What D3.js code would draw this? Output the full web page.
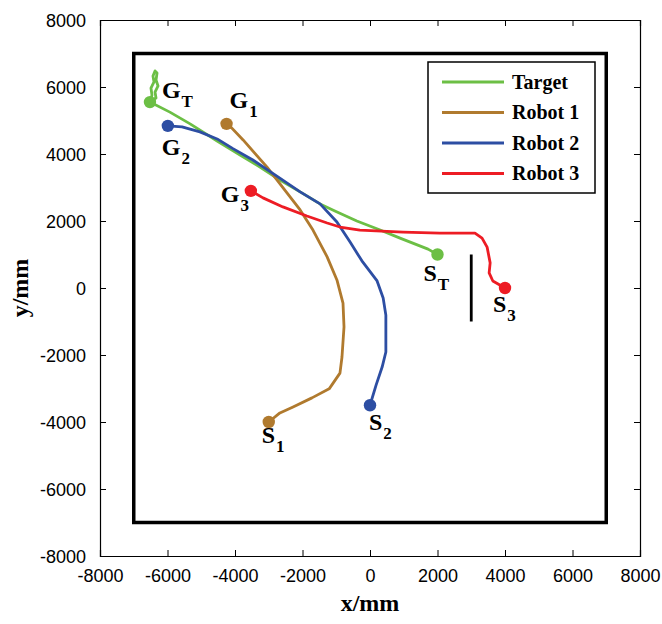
<!DOCTYPE html>
<html>
<head>
<meta charset="utf-8">
<script src="https://cdn.jsdelivr.net/npm/d3@7"></script>
<style>
  html, body { margin: 0; padding: 0; background: #fff; }
  svg { display: block; }
</style>
</head>
<body>
<svg id="chart" width="662" height="624"></svg>
<script>
// ---------- data (mm) ----------
const xTicks = [-8000, -6000, -4000, -2000, 0, 2000, 4000, 6000, 8000];
const yTicks = [-8000, -6000, -4000, -2000, 0, 2000, 4000, 6000, 8000];

const seriesNames = ["Target", "Robot 1", "Robot 2", "Robot 3"];

const targetPath = [
  [2000,1000],[1720,1160],[890,1490],[300,1730],[-390,2000],[-1040,2300],[-1480,2510],
  [-2070,2870],[-2670,3220],[-3260,3610],[-3850,3970],[-4530,4390],[-5330,4900],
  [-5930,5250],[-6520,5550],
  [-6460,5760],[-6490,5970],[-6400,6150],[-6430,6330],[-6370,6480],[-6310,6420],
  [-6340,6210],[-6280,6030],[-6370,5850],[-6340,5670],[-6490,5580]
];
const robot1Path = [
  [-4250,4900],[-4240,4930],[-3760,4420],[-3050,3610],[-2460,2840],[-2070,2330],[-1690,1730],
  [-1270,930],[-980,240],[-800,-450],[-770,-1160],[-830,-2060],[-890,-2540],
  [-1210,-3010],[-1720,-3280],[-2280,-3550],[-2670,-3730],[-3000,-4000]
];
const robot2Path = [
  [-5990,4840],[-5570,4810],[-5040,4660],[-4530,4450],[-4060,4160],[-3470,3820],
  [-2760,3340],[-2070,2870],[-1480,2510],[-980,1970],[-590,1370],[-240,810],
  [210,210],[390,-300],[470,-810],[470,-1910],[360,-2360],[180,-2900],[0,-3500]
];
const robot3Path = [
  [-3530,2900],[-3170,2690],[-2580,2420],[-1870,2150],[-1270,1940],[-890,1820],
  [-300,1730],[980,1670],[2070,1640],[3110,1640],[3320,1490],[3470,1220],
  [3560,750],[3530,450],[3640,210],[4000,0]
];

// start / goal markers
const startPoints = [[2000,1000],[-3000,-4000],[0,-3500],[4000,0]];
const goalPoints  = [[-6520,5550],[-4250,4900],[-5990,4840],[-3530,2900]];
const startLabels = ["S", "S", "S", "S"];
const goalLabels  = ["G", "G", "G", "G"];
const subLabels   = ["T", "1", "2", "3"];

// boundary square and obstacle (mm)
const boundary = [[-7000,-7000],[7000,-7000],[7000,7000],[-7000,7000]];
const obstacle = [[3000,1000],[3000,-1000]];

const xLabel = "x/mm";
const yLabel = "y/mm";

// ---------- styles ----------
const colors = ["#6cbf45", "#b07a2e", "#2d4ea3", "#ed1c24"];
const paths = [targetPath, robot1Path, robot2Path, robot3Path];

// label offsets (px) relative to marker centre
const goalOffsets  = [[12,-4],[3,-16],[-6,29],[-30,11]];
const startOffsets = [[-14,26],[-7,21],[-1,25],[-12,24]];

const svg = d3.select("#chart");
const W = 662, H = 624;
const m = {left: 100, right: 22, top: 20, bottom: 68};
const iw = W - m.left - m.right, ih = H - m.top - m.bottom;

const x = d3.scaleLinear().domain([-8000, 8000]).range([m.left, m.left + iw]);
const y = d3.scaleLinear().domain([-8000, 8000]).range([m.top + ih, m.top]);

const tickFont = "'Liberation Sans', Arial, sans-serif";
const serif = "'Liberation Serif', 'Times New Roman', serif";
const fmt = d => String(d); // plain hyphen-minus like the original

// axes with inward ticks
const tl = 6;
const gx = svg.append("g").attr("transform", `translate(0,${m.top + ih})`)
  .call(d3.axisBottom(x).tickValues(xTicks).tickSize(-tl).tickPadding(tl + 7).tickFormat(fmt));
const gxt = svg.append("g").attr("transform", `translate(0,${m.top})`)
  .call(d3.axisTop(x).tickValues(xTicks).tickSize(-tl).tickFormat(""));
const gy = svg.append("g").attr("transform", `translate(${m.left},0)`)
  .call(d3.axisLeft(y).tickValues(yTicks).tickSize(-tl).tickPadding(tl + 8).tickFormat(fmt));
const gyr = svg.append("g").attr("transform", `translate(${m.left + iw},0)`)
  .call(d3.axisRight(y).tickValues(yTicks).tickSize(-tl).tickFormat(""));
[gx, gxt, gy, gyr].forEach(g => {
  g.select(".domain").attr("stroke", "#000").attr("stroke-width", 1.2);
  g.selectAll(".tick line").attr("stroke", "#000").attr("stroke-width", 1);
  g.selectAll("text").attr("font-family", tickFont).attr("font-size", 18).attr("fill", "#000");
});
gx.selectAll(".tick text").attr("dy", "0.71em");
gy.selectAll(".tick text").attr("dy", "0.36em");

// boundary square
svg.append("path")
  .attr("d", d3.line().x(d => x(d[0])).y(d => y(d[1]))(boundary) + "Z")
  .attr("fill", "none").attr("stroke", "#000").attr("stroke-width", 3.5);

// obstacle
svg.append("line")
  .attr("x1", x(obstacle[0][0])).attr("y1", y(obstacle[0][1]))
  .attr("x2", x(obstacle[1][0])).attr("y2", y(obstacle[1][1]))
  .attr("stroke", "#000").attr("stroke-width", 2.8);

// trajectories
const line = d3.line().x(d => x(d[0])).y(d => y(d[1]));
paths.forEach((p, i) => {
  svg.append("path").attr("d", line(p)).attr("fill", "none")
    .attr("stroke", colors[i]).attr("stroke-width", 2.8)
    .attr("stroke-linejoin", "round").attr("stroke-linecap", "round");
});

// markers
[startPoints, goalPoints].forEach(pts => {
  pts.forEach((p, i) => {
    svg.append("circle").attr("cx", x(p[0])).attr("cy", y(p[1])).attr("r", 6.2)
      .attr("fill", colors[i]);
  });
});

// point labels
function addLabel(p, main, sub, off) {
  const t = svg.append("text")
    .attr("x", x(p[0]) + off[0]).attr("y", y(p[1]) + off[1])
    .attr("font-family", serif).attr("font-weight", "bold").attr("font-size", 24)
    .attr("fill", "#000");
  t.append("tspan").text(main);
  t.append("tspan").attr("font-size", 17).attr("dy", 9).attr("dx", 1).text(sub);
}
goalPoints.forEach((p, i) => addLabel(p, goalLabels[i], subLabels[i], goalOffsets[i]));
startPoints.forEach((p, i) => addLabel(p, startLabels[i], subLabels[i], startOffsets[i]));

// axis titles
svg.append("text").attr("x", x(0)).attr("y", 611)
  .attr("text-anchor", "middle").attr("font-family", serif).attr("font-weight", "bold")
  .attr("font-size", 24).text(xLabel);
svg.append("text").attr("transform", `translate(28,${y(0)}) rotate(-90)`)
  .attr("text-anchor", "middle").attr("font-family", serif).attr("font-weight", "bold")
  .attr("font-size", 24).text(yLabel);

// legend
const lg = svg.append("g");
lg.append("rect").attr("x", 428).attr("y", 62).attr("width", 167).attr("height", 131)
  .attr("fill", "#fff").attr("stroke", "#000").attr("stroke-width", 1.5);
seriesNames.forEach((n, i) => {
  const yy = 82 + i * 30.5;
  lg.append("line").attr("x1", 442).attr("x2", 504).attr("y1", yy).attr("y2", yy)
    .attr("stroke", colors[i]).attr("stroke-width", 3);
  lg.append("text").attr("x", 512).attr("y", yy).attr("dy", "0.33em")
    .attr("font-family", serif).attr("font-weight", "bold").attr("font-size", 20)
    .text(n);
});
</script>
</body>
</html>
